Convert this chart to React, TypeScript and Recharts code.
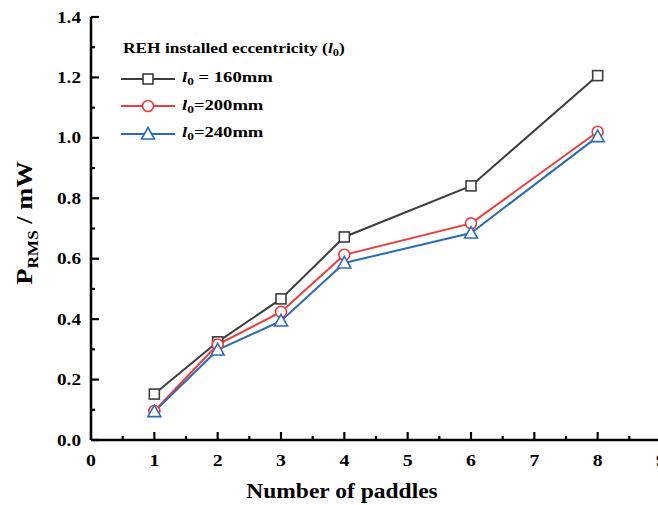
import React from 'react';
import { LineChart, Line, XAxis, YAxis, Legend } from 'recharts';

const paddles = [1, 2, 3, 4, 6, 8];
const l160 = [0.152, 0.325, 0.467, 0.672, 0.841, 1.206];
const l200 = [0.096, 0.316, 0.424, 0.613, 0.717, 1.02];
const l240 = [0.094, 0.298, 0.394, 0.586, 0.685, 1.004];

const xTicks = [0, 0.5, 1, 1.5, 2, 2.5, 3, 3.5, 4, 4.5, 5, 5.5, 6, 6.5, 7, 7.5, 8, 8.5, 9];
const yTicks = [0, 0.1, 0.2, 0.3, 0.4, 0.5, 0.6, 0.7, 0.8, 0.9, 1.0, 1.1, 1.2, 1.3, 1.4];
const frameTicks = [0, 1, 2, 3, 4, 5, 6, 7, 8, 9, 10];

const data = paddles.map((p, i) => ({ p, a: l160[i], b: l200[i], c: l240[i] }));

const FONT = '"Liberation Serif", "Times New Roman", serif';
const C_BLACK = '#3d3d3d';
const C_RED = '#ee3b3b';
const C_BLUE = '#2b6cb8';

const MAJOR = 8;
const MINOR = 4;
// the reference type is a bit wider than Liberation Serif
const STRETCH = 1.2;

const BottomTick = (props: any) => {
  const { x, y, payload } = props;
  const v = payload.value;
  const major = Number.isInteger(v);
  return (
    <g>
      <line x1={x} x2={x} y1={y} y2={y - (major ? MAJOR : MINOR)} stroke="#000" strokeWidth={2.2} />
      {major && (
        <text
          transform={`translate(${x},${y + 26}) scale(${STRETCH},1)`}
          textAnchor="middle"
          fontFamily={FONT}
          fontWeight="bold"
          fontSize={16.5}
          fill="#000"
        >
          {v}
        </text>
      )}
    </g>
  );
};

const LeftTick = (props: any) => {
  const { x, y, payload } = props;
  const v = payload.value;
  const major = Math.round(v * 10) % 2 === 0;
  return (
    <g>
      <line x1={x} x2={x + (major ? MAJOR : MINOR)} y1={y} y2={y} stroke="#000" strokeWidth={2.2} />
      {major && (
        <text
          transform={`translate(${x - 10},${y + 5.5}) scale(${STRETCH},1)`}
          textAnchor="end"
          fontFamily={FONT}
          fontWeight="bold"
          fontSize={16}
          fill="#000"
        >
          {v.toFixed(1)}
        </text>
      )}
    </g>
  );
};

const TopTick = (props: any) => {
  const { x, y, payload } = props;
  const major = payload.value % 2 === 0;
  return <line x1={x} x2={x} y1={y} y2={y + (major ? MAJOR : MINOR)} stroke="#000" strokeWidth={2.2} />;
};

const RightTick = (props: any) => {
  const { x, y, payload } = props;
  const major = payload.value % 2 === 0;
  return <line x1={x} x2={x - (major ? MAJOR : MINOR)} y1={y} y2={y} stroke="#000" strokeWidth={2.2} />;
};

const Square = (props: any) => {
  const { cx, cy, stroke } = props;
  return <rect key={`s${cx}`} x={cx - 5} y={cy - 5} width={10} height={10} fill="#fff" stroke={stroke} strokeWidth={1.6} />;
};
const Circle = (props: any) => {
  const { cx, cy, stroke } = props;
  return <circle key={`c${cx}`} cx={cx} cy={cy} r={5.5} fill="#fff" stroke={stroke} strokeWidth={1.6} />;
};
const Triangle = (props: any) => {
  const { cx, cy, stroke } = props;
  return (
    <path
      key={`t${cx}`}
      d={`M${cx},${cy - 6.5} L${cx + 6.5},${cy + 5} L${cx - 6.5},${cy + 5} Z`}
      fill="#fff"
      stroke={stroke}
      strokeWidth={1.6}
    />
  );
};

const L0 = () => (
  <span>
    <i>l</i>
    <sub style={{ fontSize: '0.72em', verticalAlign: '-3px' }}>0</sub>
  </span>
);

const legendRows = [
  { color: C_BLACK, mark: 'square', label: ' = 160mm' },
  { color: C_RED, mark: 'circle', label: '=200mm' },
  { color: C_BLUE, mark: 'triangle', label: '=240mm' },
];

const wide = { display: 'inline-block', transform: 'scaleX(1.24)', transformOrigin: 'left center', whiteSpace: 'pre' as const };

const renderLegend = () => (
  <div style={{ fontFamily: FONT, fontWeight: 'bold', color: '#000', lineHeight: 1 }}>
    <div style={{ fontSize: 14, marginBottom: 7, marginLeft: 3 }}>
      <span style={wide}>
        REH installed eccentricity (<L0 />)
      </span>
    </div>
    {legendRows.map((r) => (
      <div key={r.label} style={{ display: 'flex', alignItems: 'center', height: 27.5, fontSize: 15 }}>
        <svg width={56} height={16} style={{ marginRight: 6 }}>
          <line x1={1} x2={55} y1={8} y2={8} stroke={r.color} strokeWidth={2} />
          {r.mark === 'square' && <Square cx={28} cy={8} stroke={r.color} />}
          {r.mark === 'circle' && <Circle cx={28} cy={8} stroke={r.color} />}
          {r.mark === 'triangle' && <Triangle cx={28} cy={8} stroke={r.color} />}
        </svg>
        <span style={wide}>
          <L0 />
          {r.label}
        </span>
      </div>
    ))}
  </div>
);

const YLabel = () => (
  <text
    transform="translate(32,223) rotate(-90) scale(1.15,1)"
    textAnchor="middle"
    fontFamily={FONT}
    fontWeight="bold"
    fontSize={23}
    fill="#000"
  >
    P<tspan dy={6} fontSize={15}>RMS</tspan>
    <tspan dy={-6}> / mW</tspan>
  </text>
);

const XLabel = () => (
  <text
    transform="translate(342,498) scale(1.12,1)"
    textAnchor="middle"
    fontFamily={FONT}
    fontWeight="bold"
    fontSize={21}
    fill="#000"
  >
    Number of paddles
  </text>
);

export default function App() {
  return (
    <div style={{ position: 'fixed', left: 0, top: 0, width: 658, height: 505, overflow: 'hidden', background: '#fff' }}>
      <LineChart width={672} height={505} data={data} margin={{ top: 17, right: 11, bottom: 0, left: 0 }}>
        <XAxis
          xAxisId="b"
          dataKey="p"
          type="number"
          domain={[0, 9]}
          ticks={xTicks}
          interval={0}
          allowDataOverflow
          height={65}
          tickSize={0}
          tickMargin={0}
          tick={<BottomTick />}
          axisLine={{ stroke: '#000', strokeWidth: 2.5 }}
          label={<XLabel />}
        />
        <XAxis
          xAxisId="t"
          orientation="top"
          type="number"
          domain={[0, 10]}
          ticks={frameTicks}
          interval={0}
          allowDataOverflow
          height={0}
          tickSize={0}
          tickMargin={0}
          tick={<TopTick />}
          axisLine={{ stroke: '#000', strokeWidth: 2.5 }}
        />
        <YAxis
          yAxisId="l"
          type="number"
          domain={[0, 1.4]}
          ticks={yTicks}
          interval={0}
          allowDataOverflow
          width={91}
          tickSize={0}
          tickMargin={0}
          tick={<LeftTick />}
          axisLine={{ stroke: '#000', strokeWidth: 2.5 }}
          label={<YLabel />}
        />
        <YAxis
          yAxisId="r"
          orientation="right"
          type="number"
          domain={[0, 10]}
          ticks={frameTicks}
          interval={0}
          allowDataOverflow
          width={0}
          tickSize={0}
          tickMargin={0}
          tick={<RightTick />}
          axisLine={{ stroke: '#000', strokeWidth: 2.5 }}
        />
        <Legend
          layout="vertical"
          align="center"
          verticalAlign="middle"
          content={renderLegend}
          wrapperStyle={{ position: 'absolute', left: 120, top: 42, width: 300 }}
        />
        <Line xAxisId="b" yAxisId="l" dataKey="a" stroke={C_BLACK} strokeWidth={2} dot={<Square />} isAnimationActive={false} />
        <Line xAxisId="b" yAxisId="l" dataKey="b" stroke={C_RED} strokeWidth={2} dot={<Circle />} isAnimationActive={false} />
        <Line xAxisId="b" yAxisId="l" dataKey="c" stroke={C_BLUE} strokeWidth={2} dot={<Triangle />} isAnimationActive={false} />
      </LineChart>
    </div>
  );
}
